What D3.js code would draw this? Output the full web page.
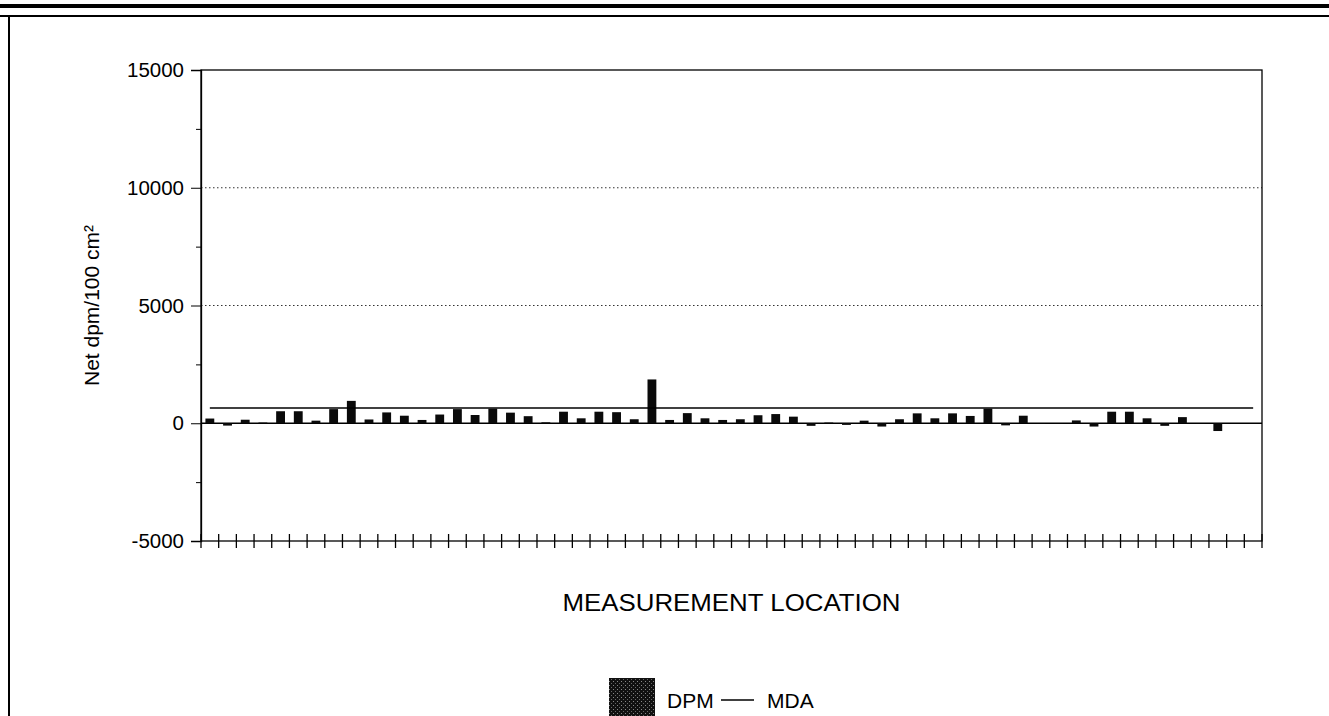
<!DOCTYPE html>
<html>
<head>
<meta charset="utf-8">
<script src="https://cdn.jsdelivr.net/npm/d3@7/dist/d3.min.js"></script>
<style>
  html, body { margin: 0; padding: 0; background: #fff; }
  svg { display: block; font-family: "Liberation Sans", Arial, sans-serif; }
</style>
</head>
<body>
<svg id="chart" width="1329" height="716"></svg>
<script>
const locations = ["1","2","3","4","5","6","7","8","9","10",
  "11","12","13","14","15","16","17","18","19","20",
  "21","22","23","24","25","26","27","28","29","30",
  "31","32","33","34","35","36","37","38","39","40",
  "41","42","43","44","45","46","47","48","49","50",
  "51","52","53","54","55","56","57","58","59","60"];
const dpmValues = [200, -100, 150, 30, 510, 510, 110, 600, 950, 160,
  460, 320, 140, 370, 600, 350, 620, 450, 300, 40,
  490, 210, 490, 470, 170, 1860, 140, 430, 210, 140,
  170, 340, 390, 280, -110, 30, -70, 110, -140, 170,
  420, 210, 420, 310, 620, -90, 320, 10, 10, 120,
  -140, 490, 490, 210, -110, 260, 10, -330, 10, 10];
const mdaValues = [650, 650, 650, 650, 650, 650, 650, 650, 650, 650,
  650, 650, 650, 650, 650, 650, 650, 650, 650, 650,
  650, 650, 650, 650, 650, 650, 650, 650, 650, 650,
  650, 650, 650, 650, 650, 650, 650, 650, 650, 650,
  650, 650, 650, 650, 650, 650, 650, 650, 650, 650,
  650, 650, 650, 650, 650, 650, 650, 650, 650, 650];
const yMajorTicks = [-5000, 0, 5000, 10000, 15000];
const yMinorTicks = [-2500, 2500, 7500, 12500];
const gridValues = [5000, 10000];
const yTitle = "Net dpm/100 cm²";
const xTitle = "MEASUREMENT LOCATION";
const legendLabels = ["DPM", "MDA"];

const svg = d3.select("#chart");
const pL = 201, pR = 1262, pT = 70, pB = 541;
const fontFam = "Liberation Sans, Arial, sans-serif";

// page frame lines
svg.append("rect").attr("x", 0).attr("y", 4).attr("width", 1329).attr("height", 4).attr("fill", "#000");
svg.append("line").attr("x1", 0).attr("x2", 1329).attr("y1", 16).attr("y2", 16).attr("stroke", "#000").attr("stroke-width", 2);
svg.append("line").attr("x1", 9).attr("x2", 9).attr("y1", 16).attr("y2", 716).attr("stroke", "#000").attr("stroke-width", 2);

const x = d3.scaleBand().domain(locations).range([pL, pR]).paddingInner(0.5).paddingOuter(0.25);
const xTicks = d3.scaleBand().domain(locations).range([pL, pR]);
const y = d3.scaleLinear().domain([-5000, 15000]).range([pB, pT]);

// grid
svg.append("g").selectAll("line").data(gridValues).join("line")
  .attr("x1", pL).attr("x2", pR)
  .attr("y1", d => y(d)).attr("y2", d => y(d))
  .attr("stroke", "#333").attr("stroke-width", 1).attr("stroke-dasharray", "1.5,2.5");

// plot frame
svg.append("rect").attr("x", pL).attr("y", pT).attr("width", pR - pL).attr("height", pB - pT)
  .attr("fill", "none").attr("stroke", "#000").attr("stroke-width", 1.3);

// zero line
svg.append("line").attr("x1", pL).attr("x2", pR).attr("y1", y(0)).attr("y2", y(0))
  .attr("stroke", "#000").attr("stroke-width", 1.6);

// y axis
const yAxis = d3.axisLeft(y).tickValues(yMajorTicks).tickSize(10).tickPadding(7).tickFormat(d => String(d));
const gy = svg.append("g").attr("transform", `translate(${pL},0)`).call(yAxis);
gy.select(".domain").attr("stroke", "#000").attr("stroke-width", 1.3);
gy.selectAll("text").attr("font-size", 20.5).attr("fill", "#000").attr("font-family", fontFam);
const yAxisMinor = d3.axisLeft(y).tickValues(yMinorTicks).tickSize(5).tickFormat("");
const gym = svg.append("g").attr("transform", `translate(${pL},0)`).call(yAxisMinor);
gym.select(".domain").remove();

// x axis ticks crossing the axis line
const boundaries = locations.map(d => xTicks(d));
svg.append("g").selectAll("line").data(boundaries).join("line")
  .attr("x1", d => d).attr("x2", d => d)
  .attr("y1", pB - 7).attr("y2", pB + 7)
  .attr("stroke", "#000").attr("stroke-width", 1.3);
svg.append("line").attr("x1", pR).attr("x2", pR).attr("y1", pB - 7).attr("y2", pB + 7)
  .attr("stroke", "#000").attr("stroke-width", 1.3);

// bars
svg.append("g").selectAll("rect").data(locations).join("rect")
  .attr("x", d => x(d))
  .attr("width", x.bandwidth())
  .attr("y", (d, i) => y(Math.max(0, dpmValues[i])))
  .attr("height", (d, i) => Math.abs(y(dpmValues[i]) - y(0)))
  .attr("fill", "#0a0a0a");

// MDA line
const line = d3.line().x((d, i) => x(locations[i]) + x.bandwidth() / 2).y(d => y(d));
svg.append("path").datum(mdaValues).attr("d", line)
  .attr("fill", "none").attr("stroke", "#000").attr("stroke-width", 1.5);

// titles
svg.append("text").attr("x", (pL + pR) / 2).attr("y", 611)
  .attr("text-anchor", "middle").attr("font-size", 23)
  .attr("textLength", 338).attr("lengthAdjust", "spacingAndGlyphs").text(xTitle);
svg.append("text").attr("transform", `translate(99,${(pT + pB) / 2}) rotate(-90)`)
  .attr("text-anchor", "middle").attr("font-size", 21).text(yTitle);

// legend
const defs = svg.append("defs");
const pat = defs.append("pattern").attr("id", "dots").attr("width", 4).attr("height", 4).attr("patternUnits", "userSpaceOnUse");
pat.append("rect").attr("width", 4).attr("height", 4).attr("fill", "#111");
pat.append("rect").attr("x", 1).attr("y", 1).attr("width", 1).attr("height", 1).attr("fill", "#888");
pat.append("rect").attr("x", 3).attr("y", 3).attr("width", 1).attr("height", 1).attr("fill", "#666");
svg.append("rect").attr("x", 609).attr("y", 678).attr("width", 46).attr("height", 40).attr("fill", "url(#dots)");
svg.append("text").attr("x", 667).attr("y", 708).attr("font-size", 21).text(legendLabels[0]);
svg.append("line").attr("x1", 721).attr("x2", 754).attr("y1", 700).attr("y2", 700).attr("stroke", "#000").attr("stroke-width", 1.3);
svg.append("text").attr("x", 767).attr("y", 708).attr("font-size", 21).text(legendLabels[1]);
</script>
</body>
</html>
